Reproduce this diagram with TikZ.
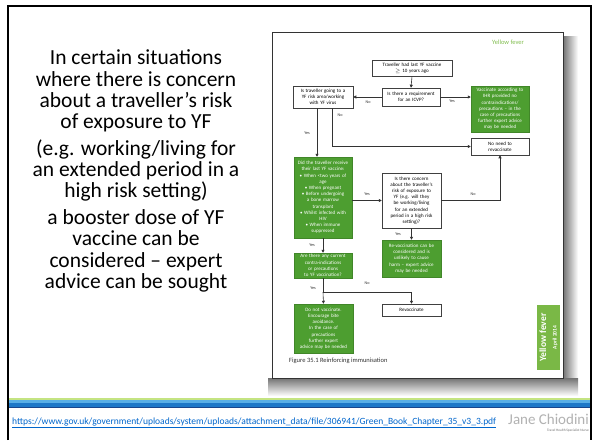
\documentclass[tikz,border=0pt]{standalone}
\usepackage{fontspec}
\setmainfont{Carlito}
\usetikzlibrary{arrows.meta,calc}
\definecolor{fcgreen}{RGB}{77,158,48}
\definecolor{tabgreen}{RGB}{122,184,70}
\definecolor{titlegreen}{RGB}{130,190,80}
\definecolor{linkblue}{RGB}{0,102,204}
\definecolor{stripegreen}{RGB}{196,228,130}
\definecolor{stripelight}{RGB}{90,175,230}
\definecolor{stripeblue}{RGB}{30,120,200}
\definecolor{stripedark}{RGB}{25,70,140}
\begin{document}
\begin{tikzpicture}[x=1pt,y=-1pt,
  fbase/.style={line width=0.5pt, inner sep=0.5pt, align=center, font=\fontsize{5}{6.2}\selectfont},
  wbox/.style={fbase, draw=black!75, fill=white, text=black},
  gbox/.style={fbase, draw=fcgreen!85!black, fill=fcgreen, text=white},
  arr/.style={draw=black!80, line width=0.6pt, -{Triangle[length=3pt,width=3pt]}},
  ln/.style={draw=black!80, line width=0.6pt},
  lab/.style={font=\fontsize{4.2}{5}\selectfont, text=black!80, inner sep=0pt},
  lefttext/.style={anchor=base, font=\fontsize{21.5}{23}\selectfont, inner sep=0pt}
]
\useasboundingbox (0,0) rectangle (597,440);
\fill[white] (0,0) rectangle (597,440);
% slide frame
\draw[black, line width=2.5pt] (8,440) -- (8,6) -- (591,6) -- (591,440);

% left text
\node[lefttext] (l1) at (136,64) {In certain situations};
\node[lefttext] (l2) at (136,86) {where there is concern};
\node[lefttext] (l3) at (136,107) {about a traveller’s risk};
\node[lefttext] (l4) at (136,128) {of exposure to YF};
\node[lefttext] (l5) at (136,155) {(e.g. working/living for};
\node[lefttext] (l6) at (136,176) {an extended period in a};
\node[lefttext] (l7) at (136,197) {high risk setting)};
\node[lefttext] (l8) at (136,224) {a booster dose of YF};
\node[lefttext] (l9) at (136,245) {vaccine can be};
\node[lefttext] (l10) at (136,267) {considered – expert};
\node[lefttext] (l11) at (136,288) {advice can be sought};

% flowchart shadow
\shade[left color=black!55, right color=white] (563,36) rectangle (578,380);
\shade[top color=black!55, bottom color=white] (268,378) rectangle (578,396);
% flowchart frame
\draw[black!80, line width=0.8pt, fill=white] (272,32) rectangle (563,378);

\node[text=titlegreen, font=\fontsize{6.5}{7}\selectfont, inner sep=0pt] (title) at (508,42) {Yellow fever};

\node[wbox, text width=79pt, minimum height=16pt] (n1) at (412,68) {Traveller had last YF vaccine\\$\geq$ 10 years ago};
\node[wbox, text width=57pt, minimum height=18pt] (n2) at (411,97) {Is there a requirement\\for an ICVP?};
\node[wbox, text width=59pt, minimum height=22pt] (n3) at (323,97) {Is traveller going to a\\YF risk area/working\\with YF virus};
\node[gbox, text width=57pt, minimum height=46pt] (n4) at (500,109) {Vaccinate according to\\IHR provided no\\contraindications/\\precautions – in the\\case of precautions\\further expert advice\\may be needed};
\node[wbox, text width=57pt, minimum height=17pt] (n5) at (500,146.5) {No need to\\revaccinate};
\node[gbox, text width=57pt, minimum height=81pt] (n6) at (323,197.5) {Did the traveller receive\\their last YF vaccine:\\• When <two years of\\age\\• When pregnant\\• Before undergoing\\a bone marrow\\transplant\\• Whilst infected with\\HIV\\• When immune\\suppressed};
\node[wbox, text width=58pt, minimum height=55pt] (n7) at (411.5,200.5) {Is there concern\\about the traveller’s\\risk of exposure to\\YF (e.g. will they\\be working/living\\for an extended\\period in a high risk\\setting)?};
\node[gbox, text width=58pt, minimum height=37pt] (n8) at (411.5,258.5) {Re-vaccination can be\\considered and is\\unlikely to cause\\harm – expert advice\\may be needed};
\node[gbox, text width=57pt, minimum height=25pt] (n9) at (323,265.5) {Are there any current\\contra-indications\\or precautions\\to YF vaccination?};
\node[gbox, text width=58pt, minimum height=49pt] (n10) at (323.5,328.5) {Do not vaccinate.\\Encourage bite\\avoidance.\\In the case of\\precautions\\further expert\\advice may be needed};
\node[wbox, text width=58pt, minimum height=12pt] (n11) at (411.5,310) {Revaccinate};

\node[anchor=west, font=\fontsize{6.5}{7}\selectfont, text=black!80, inner sep=0pt] (cap) at (289,361) {Figure 35.1 Reinforcing immunisation};

\node[fill=tabgreen, minimum width=23pt, minimum height=65pt, inner sep=0pt] (tab) at (548.5,337.5) {};
\node[rotate=90, text=white, align=center, inner sep=0pt] (tabtext) at (tab.center) {{\fontsize{9.5}{10}\selectfont\bfseries Yellow fever}\\[-1.5pt]{\fontsize{5.5}{6}\selectfont\bfseries April 2014}};

% connectors
\draw[arr] (n1.south) -- (n2.north);
\draw[arr] (n2.west) -- (n3.east);
\draw[arr] (n2.east) -- (n2.east -| n4.west);
\coordinate (c1) at ($(n3.south)+(9,0)$);
\draw[arr] (c1) |- (n5.west);
\coordinate (c2) at ($(n3.south)+(-6,0)$);
\draw[arr] (c2) -- (c2 |- n6.north);
\draw[arr] (n6.east |- n7.west) -- (n7.west);
\draw[arr] (n7.east) -| (n5.south);
\draw[arr] (n7.south) -- (n8.north);
\draw[arr] (n6.south) -- (n9.north);
\coordinate (j) at (323,292);
\draw[ln] (n9.south) -- (j);
\draw[arr] (j) -- (n10.north);
\draw[arr] (j) -| (n11.north);

\node[lab] (t1) at (368,102) {No};
\node[lab] (t2) at (452,101) {Yes};
\node[lab] (t3) at (340,115) {No};
\node[lab] (t4) at (307,133) {Yes};
\node[lab] (t5) at (367,194) {Yes};
\node[lab] (t6) at (473,194) {No};
\node[lab] (t7) at (398,234) {Yes};
\node[lab] (t8) at (312,245) {Yes};
\node[lab] (t9) at (313,288) {Yes};
\node[lab] (t10) at (367,283) {No};

% bottom stripes
\fill[stripegreen] (9,397.5) rectangle (590,400.3);
\fill[stripelight] (9,400.3) rectangle (590,403);
\fill[stripeblue] (9,403) rectangle (590,406.5);
\fill[stripedark] (9,406.5) rectangle (590,408);

\node[anchor=west, inner sep=0pt] (link) at (12,423) {\resizebox{484pt}{!}{\fontsize{9}{10}\selectfont\color{linkblue}\underline{https://www.gov.uk/government/uploads/system/uploads/attachment\_data/file/306941/Green\_Book\_Chapter\_35\_v3\_3.pdf}}};
\node[anchor=east, inner sep=0pt, text=black!30, font=\fontsize{15}{16}\selectfont] (jc) at (589,419) {Jane Chiodini};
\node[anchor=east, inner sep=0pt, text=black!55, font=\fontsize{3.5}{4}\selectfont] (jcs) at (589,431) {Travel Health Specialist Nurse};
\end{tikzpicture}
\end{document}
